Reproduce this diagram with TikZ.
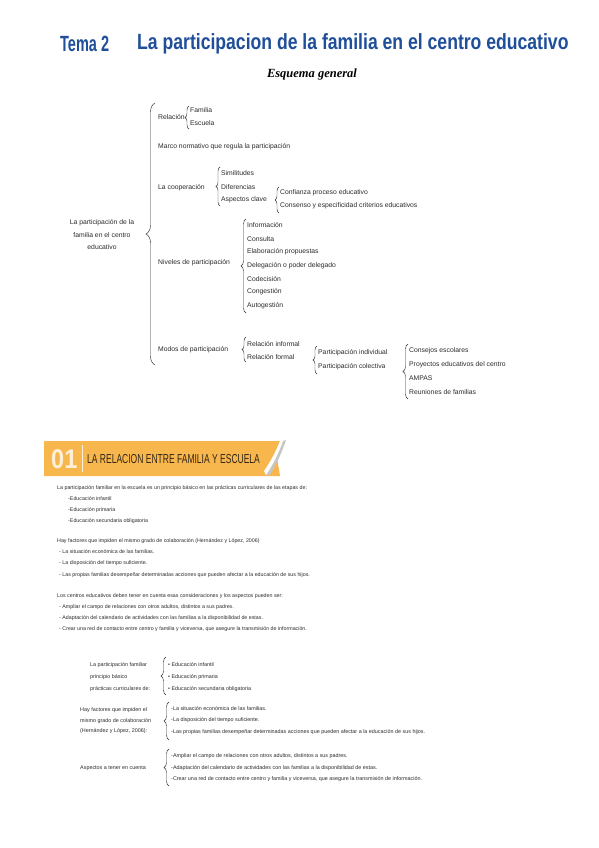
\documentclass[tikz,border=0pt]{standalone}
\usepackage{fontspec}
\setmainfont{Liberation Sans}
\newfontfamily\titlefont[FakeStretch=0.8]{Liberation Sans}
\newfontfamily\temafont[FakeStretch=0.66]{Liberation Sans}
\newfontfamily\esqfont{Liberation Serif}
\newfontfamily\condfont[FakeStretch=0.655]{Liberation Sans}
\newfontfamily\numfont[FakeStretch=0.87]{Liberation Sans}
\usetikzlibrary{decorations.pathreplacing,calc}
\definecolor{titleblue}{HTML}{1F4F9A}
\definecolor{banner}{HTML}{F8B74C}
\definecolor{numcol}{HTML}{FFF1D9}
\definecolor{ink}{HTML}{2B2B2B}
\definecolor{headink}{HTML}{33261A}
\begin{document}
\begin{tikzpicture}[x=1pt,y=-1pt,
 t/.style={anchor=west,inner sep=0pt,font=\fontsize{6.8}{8}\selectfont,text=ink},
 p/.style={anchor=west,inner sep=0pt,font=\fontsize{5.3}{6}\selectfont,text=ink},
 q/.style={anchor=west,inner sep=0pt,font=\fontsize{5.4}{6}\selectfont,text=ink},
 br/.style={decorate,decoration={brace,amplitude=#1},draw=ink,line width=0.45pt},
 br/.default=4pt]
\useasboundingbox[fill=white] (0,0) rectangle (599,848);

% Title
\node[anchor=west,inner sep=0pt,font=\temafont\bfseries\fontsize{22}{26}\selectfont,text=titleblue] (tema) at (60,44) {Tema 2};
\node[anchor=west,inner sep=0pt,font=\titlefont\bfseries\fontsize{22}{26}\selectfont,text=titleblue] (titulo) at (137,44) {La participacion de la familia en el centro educativo};
\node[inner sep=0pt,font=\esqfont\bfseries\itshape\fontsize{12.5}{14}\selectfont] (esq) at (312,74) {Esquema general};

% Tree
\node[inner sep=0pt,align=center,font=\fontsize{6.8}{12.5}\selectfont,text=ink] (root) at (102,235) {La participación de la\\familia en el centro\\educativo};
\coordinate (rbB) at (155,365); \coordinate (rbT) at (155,103);
\draw[br=9pt] (rbB) -- (rbT);

\node[t] (rel) at (158,117) {Relación};
\node[t] (fam) at (190,110) {Familia};
\node[t] (esc) at (190,123) {Escuela};
\coordinate (b1B) at (189,129); \coordinate (b1T) at (189,106);
\draw[br=4pt] (b1B) -- (b1T);

\node[t] (marco) at (158,147) {Marco normativo que regula la participación};

\node[t] (coop) at (158,188) {La cooperación};
\node[t] (sim) at (221,173) {Similitudes};
\node[t] (dif) at (221,187) {Diferencias};
\node[t] (asp) at (221,200) {Aspectos clave};
\coordinate (b2B) at (220,206); \coordinate (b2T) at (220,167);
\draw[br=4pt] (b2B) -- (b2T);
\node[t] (conf) at (280,193) {Confianza proceso educativo};
\node[t] (cons) at (280,206) {Consenso y especificidad criterios educativos};
\coordinate (b3B) at (279,213); \coordinate (b3T) at (279,187);
\draw[br=4pt] (b3B) -- (b3T);

\node[t] (niv) at (158,263) {Niveles de participación};
\node[t] (n1) at (247,225) {Información};
\node[t] (n2) at (247,239) {Consulta};
\node[t] (n3) at (247,252) {Elaboración propuestas};
\node[t] (n4) at (247,266) {Delegación o poder delegado};
\node[t] (n5) at (247,279) {Codecisión};
\node[t] (n6) at (247,292) {Congestión};
\node[t] (n7) at (247,306) {Autogestión};
\coordinate (b4B) at (246,313); \coordinate (b4T) at (246,219);
\draw[br=5pt] (b4B) -- (b4T);

\node[t] (modos) at (158,350) {Modos de participación};
\node[t] (m1) at (247,344) {Relación informal};
\node[t] (m2) at (247,357) {Relación formal};
\coordinate (b5B) at (246,362); \coordinate (b5T) at (246,337);
\draw[br=4pt] (b5B) -- (b5T);
\node[t] (pi) at (318,353) {Participación individual};
\node[t] (pc) at (318,367) {Participación colectiva};
\coordinate (b6B) at (317,374); \coordinate (b6T) at (317,346);
\draw[br=4pt] (b6B) -- (b6T);
\node[t] (c1) at (409,351) {Consejos escolares};
\node[t] (c2) at (409,365) {Proyectos educativos del centro};
\node[t] (c3) at (409,378) {AMPAS};
\node[t] (c4) at (409,392) {Reuniones de familias};
\coordinate (b7B) at (408,399); \coordinate (b7T) at (408,344);
\draw[br=5pt] (b7B) -- (b7T);

% Banner
\fill[banner] (44,441) -- (283,441) -- (277,458) -- (280,476) -- (44,476) -- cycle;
\fill[gray!45] (286,440) .. controls (282,452) and (277,463) .. (270,475) -- (266,475) .. controls (274,463) and (279,452) .. (283,441) -- cycle;
\fill[white] (283,441) .. controls (279,452) and (274,463) .. (266,475) -- (264,471) .. controls (271,461) and (276,451) .. (280,441) -- cycle;
\draw[numcol,line width=0.6pt] (82,445) -- (82,472);
\node[anchor=west,inner sep=0pt,font=\numfont\bfseries\fontsize{27}{30}\selectfont,text=numcol] (num) at (51,459) {01};
\node[anchor=west,inner sep=0pt,font=\condfont\fontsize{13}{15}\selectfont,text=headink] (head) at (87,459) {LA RELACION ENTRE FAMILIA Y ESCUELA};

% Paragraphs
\node[p] (pa1) at (57,488) {La participación familiar en la escuela es un principio básico en las prácticas curriculares de las etapas de:};
\node[p] (pa2) at (68,499) {-Educación infantil};
\node[p] (pa3) at (68,510) {-Educación primaria};
\node[p] (pa4) at (68,521) {-Educación secundaria obligatoria};
\node[p] (pb1) at (57,541) {Hay factores que impiden el mismo grado de colaboración (Hernández y López, 2006)};
\node[p] (pb2) at (59,552) {- La situación económica de las familias.};
\node[p] (pb3) at (59,563) {- La disposición del tiempo suficiente.};
\node[p] (pb4) at (59,575) {- Las propias familias desempeñar determinadas acciones que pueden afectar a la educación de sus hijos.};
\node[p] (pc1) at (57,596) {Los centros educativos deben tener en cuenta esas consideraciones y los aspectos pueden ser:};
\node[p] (pc2) at (59,607) {- Ampliar el campo de relaciones con otros adultos, distintos a sus padres.};
\node[p] (pc3) at (59,618) {- Adaptación del calendario de actividades con las familias a la disponibilidad de estas.};
\node[p] (pc4) at (59,629) {- Crear una red de contacto entre centro y familia y viceversa, que asegure la transmisión de información.};

% Bottom schemes
\node[q,align=left,font=\fontsize{5.4}{12}\selectfont] (s1) at (90,677) {La participación familiar\\principio básico\\prácticas curriculares de:};
\node[q] (s1a) at (168,665) {• Educación infantil};
\node[q] (s1b) at (168,677) {• Educación primaria};
\node[q] (s1c) at (168,689) {• Educación secundaria obligatoria};
\coordinate (b8B) at (166,695); \coordinate (b8T) at (166,657);
\draw[br=5pt] (b8B) -- (b8T);

\node[q,align=left,font=\fontsize{5.4}{10.5}\selectfont] (s2) at (80,721) {Hay factores que impiden el\\mismo grado de colaboración\\(Hernández y López, 2006):};
\node[q] (s2a) at (171,709) {-La situación económica de las familias.};
\node[q] (s2b) at (171,720) {-La disposición del tiempo suficiente.};
\node[q] (s2c) at (171,732) {-Las propias familias desempeñar determinadas acciones que pueden afectar a la educación de sus hijos.};
\coordinate (b9B) at (169,740); \coordinate (b9T) at (169,702);
\draw[br=5pt] (b9B) -- (b9T);

\node[q] (s3) at (80,768) {Aspectos a tener en cuenta};
\node[q] (s3a) at (171,756) {-Ampliar el campo de relaciones con otros adultos, distintos a sus padres.};
\node[q] (s3b) at (171,768) {-Adaptación del calendario de actividades con las familias a la disponibilidad de estas.};
\node[q] (s3c) at (171,779) {-Crear una red de contacto entre centro y familia y viceversa, que asegure la transmisión de información.};
\coordinate (b10B) at (169,786); \coordinate (b10T) at (169,749);
\draw[br=5pt] (b10B) -- (b10T);
\end{tikzpicture}
\end{document}
